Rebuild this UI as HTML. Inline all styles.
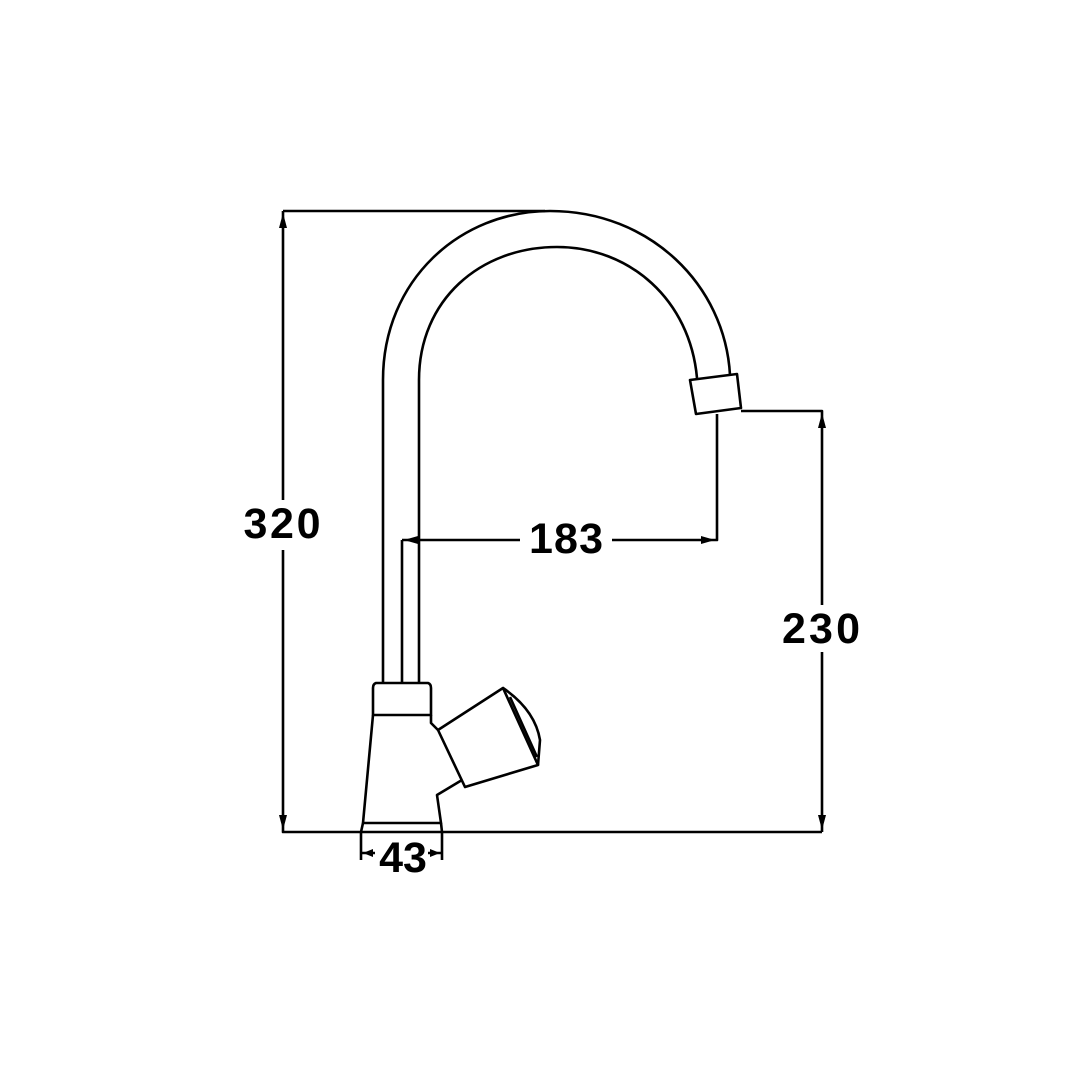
<!DOCTYPE html>
<html><head><style>body{margin:0;background:#fff}svg{display:block}text{font-family:"Liberation Sans",sans-serif;font-weight:bold;font-size:43px;fill:#000}</style></head>
<body>
<svg width="1080" height="1080" viewBox="0 0 1080 1080" xmlns="http://www.w3.org/2000/svg">
<g fill="none" stroke="#000" stroke-width="2.6" stroke-linejoin="round">
<path d="M383 683 L383 380 C383 280 460 211 550 211 C650 211 725 285 730 375"/>
<path d="M419 683 L419 380 C419 300 480 247 557 247 C630 247 690 300 697 378"/>
<path d="M402 540 L402 683"/>
<polygon points="690,380 737,374 741,408 696,414" fill="#fff"/>
<path d="M376 683 L428 683 Q431 684 431 688 L431 715 L373 715 L373 688 Q373 684 376 683 Z"/>
<path d="M373 715 L363 823 L441 823 L437 795 L462 780"/>
<path d="M431 715 L431 723 L438 730"/>
<polygon points="438,730 503,688 538,765 465,787" fill="#fff"/>
<path d="M503 688 Q535 710 540 740 L538 765"/>
<path d="M510 697 L537 757"/>
<path d="M363 823 L361 832 M441 823 L442 832"/>
<path d="M283 211 L545 211 M283 211 L283 500 M283 550 L283 832 L822 832"/>
<path d="M741 411 L822 411 L822 605 M822 652 L822 832"/>
<path d="M717 414 L717 540 L612 540 M520 540 L402 540"/>
<path d="M361 832 L361 860 M442 832 L442 860 M361 853 L375 853 M428 853 L442 853"/>
</g>
<g fill="#000">
<polygon points="283,213 279,228 287,228"/>
<polygon points="283,830 279,815 287,815"/>
<polygon points="822,413 818,428 826,428"/>
<polygon points="822,830 818,815 826,815"/>
<polygon points="404,540 418,536 418,544"/>
<polygon points="715,540 701,536 701,544"/>
<polygon points="363,853 373,849 373,857"/>
<polygon points="440,853 430,849 430,857"/>
</g>
<text x="282" y="538" text-anchor="middle" textLength="77">320</text>
<text x="566" y="553" text-anchor="middle" textLength="74">183</text>
<text x="821" y="643" text-anchor="middle" textLength="78">230</text>
<text x="403" y="872" text-anchor="middle">43</text>
</svg>
</body></html>
